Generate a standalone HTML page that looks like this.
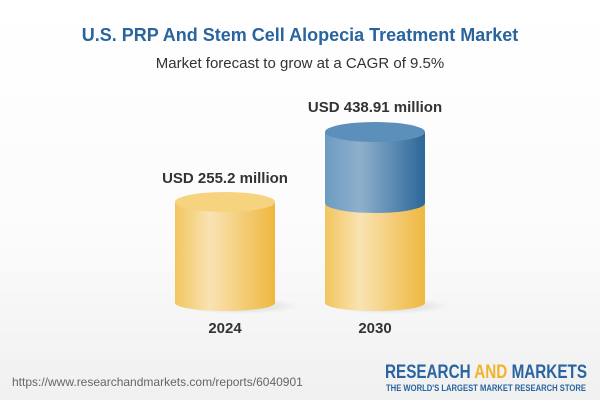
<!DOCTYPE html>
<html><head><style>
body{margin:0;width:600px;height:400px;overflow:hidden;background:#fff;font-family:"Liberation Sans",sans-serif}
</style></head><body>
<svg width="600" height="400" xmlns="http://www.w3.org/2000/svg">
<defs>
<linearGradient id="bg" x1="0" y1="0" x2="0" y2="1"><stop offset="0" stop-color="#ffffff"/><stop offset="0.6" stop-color="#fbfbfb"/><stop offset="1" stop-color="#f0f0f0"/></linearGradient>
<linearGradient id="y" x1="0" x2="1"><stop offset="0" stop-color="#f2c65e"/><stop offset="0.35" stop-color="#f9e3b3"/><stop offset="1" stop-color="#efb73e"/></linearGradient>
<linearGradient id="b" x1="0" x2="1"><stop offset="0" stop-color="#6c9bc2"/><stop offset="0.35" stop-color="#8fb0cc"/><stop offset="1" stop-color="#2b6799"/></linearGradient>
<radialGradient id="sh"><stop offset="0" stop-color="#000" stop-opacity="0.15"/><stop offset="1" stop-color="#000" stop-opacity="0"/></radialGradient>
</defs>
<rect width="600" height="400" fill="url(#bg)"/>
<text x="300" y="41" text-anchor="middle" font-size="18" font-weight="bold" fill="#2a649e">U.S. PRP And Stem Cell Alopecia Treatment Market</text>
<text x="300" y="68" text-anchor="middle" font-size="15" fill="#333">Market forecast to grow at a CAGR of 9.5%</text>
<ellipse cx="240" cy="306" rx="60" ry="8" fill="url(#sh)"/>
<ellipse cx="390" cy="306" rx="60" ry="8" fill="url(#sh)"/>
<path d="M175 202 V303 A50 8 0 0 0 275 303 V202 Z" fill="url(#y)"/>
<ellipse cx="225" cy="202" rx="50" ry="10" fill="#f6d37f"/>
<path d="M325 203 V303 A50 8 0 0 0 425 303 V203 Z" fill="url(#y)"/>
<path d="M325 132 V203 A50 10 0 0 0 425 203 V132 Z" fill="url(#b)"/>
<ellipse cx="375" cy="132" rx="50" ry="10" fill="#5d8fbb"/>
<g font-size="15" font-weight="bold" fill="#333" text-anchor="middle">
<text x="225" y="183">USD 255.2 million</text>
<text x="375" y="112">USD 438.91 million</text>
<text x="225" y="333">2024</text>
<text x="375" y="333">2030</text>
</g>
<text x="12" y="386" font-size="12" fill="#666">https://www.researchandmarkets.com/reports/6040901</text>
<text x="385" y="378" font-size="19" font-weight="bold" fill="#2a64a0" textLength="202" lengthAdjust="spacingAndGlyphs">RESEARCH <tspan fill="#f0b429">AND</tspan> MARKETS</text>
<text x="386" y="391" font-size="9" font-weight="bold" fill="#2a64a0" textLength="200" lengthAdjust="spacingAndGlyphs">THE WORLD'S LARGEST MARKET RESEARCH STORE</text>
</svg>
</body></html>
